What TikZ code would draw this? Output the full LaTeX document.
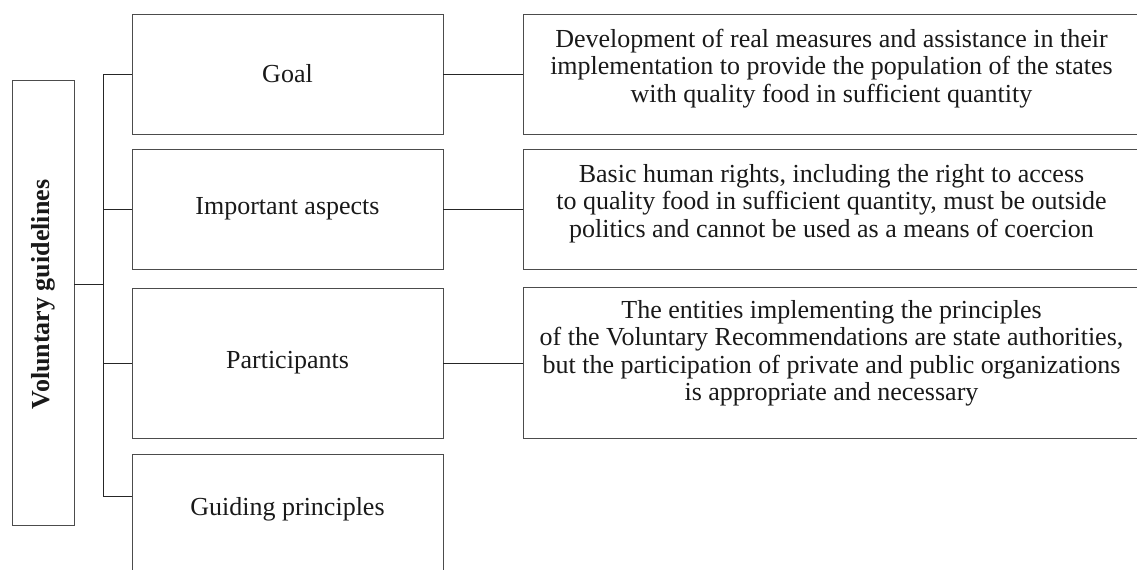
\documentclass[tikz,border=0pt]{standalone}
\usepackage{fontspec}
\setmainfont{Liberation Serif}
\usetikzlibrary{positioning}
\tikzset{
    titlebox/.style={draw=black!70, minimum width=31pt, minimum height=222.5pt, inner sep=0pt},
    itembox/.style={draw=black!70, minimum width=155.5pt, inner sep=0pt},
    descbox/.style={draw=black!70, minimum width=308.5pt, inner sep=0pt},
    desc/.style={align=center, inner sep=0pt},
    link/.style={draw=black!85},
}

\begin{document}
\begin{tikzpicture}[x=0.5pt, y=-0.5pt, line width=.45pt, text=black!90,
        font=\fontsize{13}{13.75}\selectfont]
    \useasboundingbox (0,0) rectangle (1137,569);
    \clip (0,0) rectangle (1137,569);

    % left title
    \node[titlebox, text depth=8pt] (title) at (43,302.5) {\rotatebox{90}{\textbf{Voluntary guidelines}}};

    % middle column
    \node[itembox, minimum height=60pt] (goal) at (287.5,74) {Goal};
    \node[itembox, minimum height=60pt] (aspects) at (287.5,209) {Important aspects};
    \node[itembox, minimum height=75pt] (parts) at (287.5,363) {Participants};
    \node[itembox, minimum height=63pt, anchor=north, text depth=10.5pt] (principles) at (287.5,454) {Guiding principles};

    % right column
    \node[descbox, minimum height=60pt] (goaldesc) at (831.5,74) {};
    \node[descbox, minimum height=60pt] (aspectsdesc) at (831.5,209) {};
    \node[descbox, minimum height=75.5pt] (partsdesc) at (831.5,362.5) {};

    \node[desc, below=7.5pt of goaldesc.north] (goaltext) {Development of real measures and assistance in their\\
        implementation to provide the population of the states\\
        with quality food in sufficient quantity};
    \node[desc, below=7.5pt of aspectsdesc.north] (aspectstext) {Basic human rights, including the right to access\\
        to quality food in sufficient quantity, must be outside\\
        politics and cannot be used as a means of coercion};
    \node[desc, below=6.5pt of partsdesc.north] (partstext) {The entities implementing the principles\\
        of the Voluntary Recommendations are state authorities,\\
        but the participation of private and public organizations\\
        is appropriate and necessary};

    % connectors
    \coordinate (spinetop) at (103,74);
    \coordinate (spinebot) at (103,496);
    \coordinate (hub) at (103,284);
    \draw[link] (spinetop) -- (spinebot);
    \draw[link] (title.east |- hub) -- (hub);
    \draw[link] (spinetop) -- (goal.west);
    \draw[link] (aspects.west -| spinetop) -- (aspects.west);
    \draw[link] (parts.west -| spinetop) -- (parts.west);
    \draw[link] (spinebot) -- (spinebot -| principles.west);

    \draw[link] (goal.east) -- (goal.east -| goaldesc.west);
    \draw[link] (aspects.east) -- (aspects.east -| aspectsdesc.west);
    \draw[link] (parts.east) -- (parts.east -| partsdesc.west);
\end{tikzpicture}
\end{document}
